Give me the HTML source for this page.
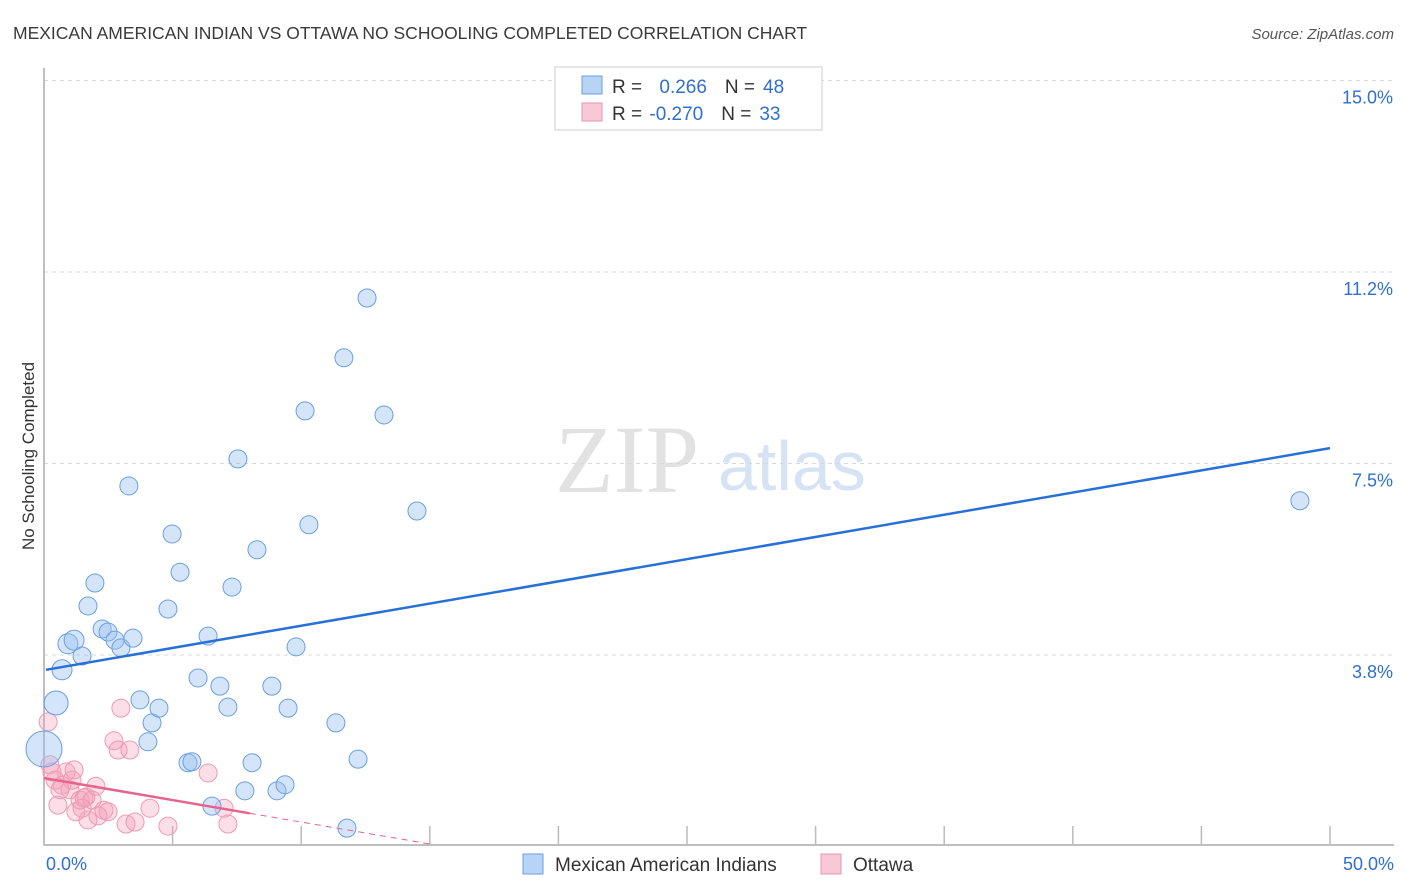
<!DOCTYPE html>
<html><head><meta charset="utf-8">
<style>
body{margin:0;background:#fff;font-family:"Liberation Sans",sans-serif;}
svg{display:block}
</style></head><body>
<svg id="chart" width="1406" height="892" xmlns="http://www.w3.org/2000/svg">
<text x="13" y="39" font-size="17.5" fill="#3a3a3a">MEXICAN AMERICAN INDIAN VS OTTAWA NO SCHOOLING COMPLETED CORRELATION CHART</text>
<text x="1394" y="39" font-size="15" fill="#555" font-style="italic" text-anchor="end">Source: ZipAtlas.com</text>
<text transform="translate(34,456) rotate(-90)" font-size="17" fill="#333" text-anchor="middle">No Schooling Completed</text>
<g>
<text x="555" y="492" font-size="96" fill="#e2e2e2" font-family="Liberation Serif,serif">ZIP</text>
<text x="718" y="490" font-size="70" fill="#d5e3f5">atlas</text>
</g>
<g id="grid"></g>
<g id="axes"></g>
<g id="marks"></g>
<g>
<rect x="555" y="67" width="267" height="63" fill="#fff" stroke="#ccc"/>
<rect x="582" y="76" width="20" height="18" fill="#b8d4f5" stroke="#6a9fe0"/>
<rect x="582" y="103" width="20" height="18" fill="#f9c8d6" stroke="#e995ae"/>
<text x="612" y="93" font-size="19" fill="#333">R = <tspan fill="#2f6fd0" dx="12">0.266</tspan><tspan fill="#333" dx="18">N =</tspan><tspan fill="#2f6fd0" dx="8">48</tspan></text>
<text x="612" y="120" font-size="19" fill="#333">R = <tspan fill="#2f6fd0" dx="2">-0.270</tspan><tspan fill="#333" dx="18">N =</tspan><tspan fill="#2f6fd0" dx="8">33</tspan></text>
</g>
<g>
<rect x="523" y="854" width="20" height="20" fill="#b8d4f5" stroke="#6a9fe0"/>
<text x="555" y="871" font-size="19" fill="#333">Mexican American Indians</text>
<rect x="821" y="854" width="20" height="20" fill="#f9c8d6" stroke="#e995ae"/>
<text x="853" y="871" font-size="19" fill="#333">Ottawa</text>
</g>
</svg>
<script>
const yTicks=[3.75,7.5,11.25,15];
const yTickLabels=["3.8%","7.5%","11.2%","15.0%"];
const xTickVals=[0,5,10,15,20,25,30,35,40,45,50];
const xEndLabels=["0.0%","50.0%"];
const blueX=[0.47,0.0,0.70,0.93,1.17,1.48,1.71,1.98,2.26,2.49,2.76,2.99,3.30,3.46,3.73,4.04,4.20,4.47,4.82,4.98,5.29,5.60,5.75,5.99,6.38,6.53,6.84,7.15,7.31,7.54,7.81,8.09,8.28,8.86,9.06,9.37,9.49,9.80,10.15,10.30,11.35,11.66,11.78,12.21,12.56,13.22,14.50,48.83];
const blueY=[2.81,1.91,3.46,3.97,4.04,3.73,4.71,5.16,4.26,4.20,4.04,3.89,7.06,4.08,2.87,2.05,2.42,2.71,4.65,6.12,5.37,1.64,1.66,3.30,4.12,0.79,3.14,2.73,5.08,7.59,1.09,1.64,5.81,3.14,1.09,1.21,2.71,3.91,8.53,6.30,2.42,9.57,0.36,1.71,10.74,8.45,6.57,6.77];
const blueSize=[12,18,10,10,10,9,9,9,9,9,9,9,9,9,9,9,9,9,9,9,9,9,9,9,9,9,9,9,9,9,9,9,9,9,9,9,9,9,9,9,9,9,9,9,9,9,9,9];
const pinkX=[0.16,0.23,0.43,0.54,0.70,0.86,1.01,1.09,1.17,1.24,1.40,1.56,1.63,1.71,1.87,2.02,2.10,2.33,2.49,2.72,2.88,2.99,3.19,3.34,3.54,4.12,4.82,6.38,7.00,7.15,0.31,0.62,1.48];
const pinkY=[2.44,1.60,1.30,0.81,1.20,1.46,1.11,1.30,1.50,0.68,0.91,0.95,0.97,0.52,0.91,1.18,0.60,0.71,0.68,2.07,1.89,2.71,0.44,1.89,0.48,0.75,0.40,1.44,0.75,0.44,1.46,1.11,0.75];
const blueTrendX=[0,50], blueTrendY=[3.46,7.80];
const pinkTrendX=[0,8,15], pinkTrendY=[1.34,0.65,0.05];

const NS="http://www.w3.org/2000/svg";
const X0=44,X1=1330,Y0=846.5,PXY=51.07;
const sx=v=>X0+v*(X1-X0)/50;
const sy=v=>Y0-v*PXY;
function mk(tag,attrs,parent){const e=document.createElementNS(NS,tag);for(const k in attrs)e.setAttribute(k,attrs[k]);parent.appendChild(e);return e;}
const grid=document.getElementById('grid'),axes=document.getElementById('axes'),marks=document.getElementById('marks');
yTicks.forEach((t,i)=>{
 const l=mk('line',{x1:X0,x2:1394,y1:sy(t),y2:sy(t),stroke:'#d8d8d8','stroke-dasharray':'4,4'},grid);
 
 
 const tx=mk('text',{x:1393,y:sy(t)+23,'font-size':18,fill:'#2f6fd0','text-anchor':'end'},grid);
 tx.textContent=yTickLabels[i];
 
 
});
const ax=mk('path',{d:`M${X0},68 V845 H1394`,fill:'none',stroke:'#aaa','stroke-width':1.5},axes);


xTickVals.forEach(v=>{
 const t=mk('line',{x1:sx(v),x2:sx(v),y1:826,y2:845,stroke:'#bbb','stroke-width':1.5},axes);
 
 
});
[[0,'start',46],[50,'end',1394]].forEach((d,i)=>{
 const t=mk('text',{x:d[2],y:870,'font-size':18,fill:'#2f6fd0','text-anchor':d[1]},axes);
 t.textContent=xEndLabels[i];
 
 
});
pinkX.forEach((x,i)=>{
 const c=mk('circle',{cx:sx(x),cy:sy(pinkY[i]),r:9,fill:'rgba(244,160,185,0.35)',stroke:'#ee9ab3','stroke-width':1},marks);
 
 
});
blueX.forEach((x,i)=>{
 const c=mk('circle',{cx:sx(x),cy:sy(blueY[i]),r:blueSize[i],fill:'rgba(150,190,240,0.4)',stroke:'#6a9fe0','stroke-width':1},marks);
 
 
});
const bl=mk('line',{x1:sx(blueTrendX[0])+2,y1:sy(blueTrendY[0]),x2:sx(blueTrendX[1]),y2:sy(blueTrendY[1]),stroke:'#2670d8','stroke-width':2.5},marks);


const pl=mk('line',{x1:sx(pinkTrendX[0]),y1:sy(pinkTrendY[0]),x2:sx(pinkTrendX[1]),y2:sy(pinkTrendY[1]),stroke:'#e8638c','stroke-width':2.5},marks);


const pd=mk('line',{x1:sx(pinkTrendX[1]),y1:sy(pinkTrendY[1]),x2:sx(pinkTrendX[2]),y2:sy(pinkTrendY[2]),stroke:'#e8638c','stroke-width':1,'stroke-dasharray':'6,5'},marks);


</script>
</body></html>
